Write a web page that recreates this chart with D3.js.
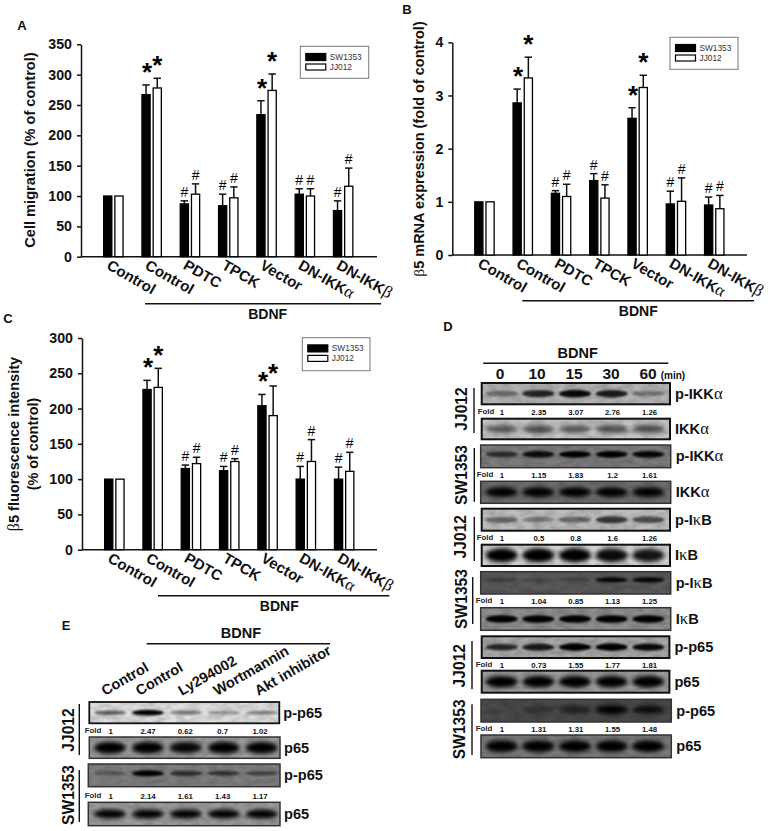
<!DOCTYPE html>
<html>
<head>
<meta charset="utf-8">
<script src="https://cdn.jsdelivr.net/npm/d3@7/dist/d3.min.js"></script>
<style>
html,body{margin:0;padding:0;background:#fff}
svg{display:block}
text{font-family:"Liberation Sans",Arial,sans-serif;fill:#111}
</style>
</head>
<body>
<svg id="fig" width="768" height="831"></svg>
<script>
// ---------- data ----------
const categories = ["Control","Control","PDTC","TPCK","Vector","DN-IKKα","DN-IKKβ"];
const seriesNames = ["SW1353","JJ012"];

const migrationSW  = [100,267,87,84,234,103,76];
const migrationSWTop = [100,283,92,103,257,112,92];
const migrationJJ  = [100,278,103,97,274,100,116];
const migrationJJTop = [100,294,120,115,301,112,146];
const marks = ["","*","#","#","*","#","#"];
const migrationTicks = [0,50,100,150,200,250,300,350];

const mrnaSW  = [1,2.86,1.16,1.4,2.57,0.96,0.94];
const mrnaSWTop = [1,3.12,1.21,1.53,2.77,1.2,1.09];
const mrnaJJ  = [1,3.33,1.1,1.07,3.15,1.01,0.87];
const mrnaJJTop = [1,3.72,1.33,1.32,3.38,1.45,1.12];
const mrnaTicks = [0,1,2,3,4];

const fluorSW  = [100,227,115,112,204,100,100];
const fluorSWTop = [100,240,120,118,220,118,117];
const fluorJJ  = [100,230,122,125,190,125,111];
const fluorJJTop = [100,257,131,129,232,156,138];
const fluorTicks = [0,50,100,150,200,250,300];

const timePoints = ["0","10","15","30","60"];
const foldD1 = ["1","2.35","3.07","2.76","1.26"];
const foldD2 = ["1","1.15","1.83","1.2","1.61"];
const foldD3 = ["1","0.5","0.8","1.6","1.26"];
const foldD4 = ["1","1.04","0.85","1.13","1.25"];
const foldD5 = ["1","0.73","1.55","1.77","1.81"];
const foldD6 = ["1","1.31","1.31","1.55","1.48"];
const treatmentsE = ["Control","Control","Ly294002","Wortmannin","Akt inhibitor"];
const foldE1 = ["1","2.47","0.62","0.7","1.02"];
const foldE2 = ["1","2.14","1.61","1.43","1.17"];

// band darkness per lane read from each blot
const bandsD = [
 [.4,.8,.95,.85,.35],[.55,.6,.55,.6,.6],[.65,.9,1,1,.95],[1,1,1,1,1],
 [.45,.35,.45,.7,.6],[1,1,1,.95,.9],[.35,.22,.28,.95,.95],[1,1,1,1,1],
 [.75,.85,1,1,.95],[1,1,1,1,1],[.06,.35,.55,1,.85],[1,1,1,1,1]
];
const bandsE = [[.55,1,.4,.32,.38],[1,1,.95,1,1],[.3,1,.65,.6,.45],[1,1,1,1,1]];
const blotNamesD = ["p-IKKα","IKKα","p-IKKα","IKKα","p-IκB","IκB","p-IκB","IκB","p-p65","p65","p-p65","p65"];
const blotNamesE = ["p-p65","p65","p-p65","p65"];

// ---------- layout (not data) ----------
const svg = d3.select("#fig");
const defs = svg.append("defs");
[["b1",1.2],["b2",2]].forEach(([id,s])=>{
  defs.append("filter").attr("id",id).attr("x","-30%").attr("y","-80%").attr("width","160%").attr("height","260%")
    .append("feGaussianBlur").attr("stdDeviation",s);
});
const grain = defs.append("filter").attr("id","grain").attr("x","0").attr("y","0").attr("width","100%").attr("height","100%");
grain.append("feTurbulence").attr("type","fractalNoise").attr("baseFrequency","0.09 0.2").attr("numOctaves",2).attr("seed",4);
grain.append("feColorMatrix").attr("values","0 0 0 0 0  0 0 0 0 0  0 0 0 0 0  0.9 0 0 0 -0.28");

const Greek = /([αβκ])/;
function richText(sel, str, greekSize){
  sel.text(null);
  str.split(Greek).filter(s=>s.length).forEach(part=>{
    const t = sel.append("tspan").text(part);
    if(Greek.test(part)) t.style("font-family","'Liberation Serif',serif").style("font-weight","400");
    if(Greek.test(part) && greekSize) t.style("font-size",greekSize+"px");
  });
}
function label(x,y,str,o={}){
  const t = svg.append("text").attr("x",x).attr("y",y)
    .attr("text-anchor",o.anchor||"middle")
    .style("font-size",(o.size||14)+"px")
    .style("font-weight",o.weight||"bold");
  if(o.rotate!==undefined) t.attr("transform",`rotate(${o.rotate},${x},${y})`);
  richText(t,str,o.greek);
  return t;
}
function rule(x1,y1,x2,y2,w=1.5){
  svg.append("line").attr("x1",x1).attr("y1",y1).attr("x2",x2).attr("y2",y2).attr("stroke","#111").attr("stroke-width",w);
}

function barPanel(p){
  const g = svg.append("g");
  const y = d3.scaleLinear().domain(p.domain).range([p.y0,p.yTop]);
  const x = d3.scaleBand().domain(d3.range(categories.length)).range(p.xRange);
  const x1 = d3.scaleBand().domain(seriesNames).range([-9.7,9.7]).paddingInner(.27);
  const yAxis = d3.axisLeft(y).tickValues(p.ticks).tickSize(4).tickSizeOuter(0).tickPadding(5).tickFormat(d3.format("d"));
  const ga = g.append("g").attr("transform",`translate(${p.axisX},0)`).call(yAxis);
  ga.selectAll("text").style("font-size","14.2px").style("font-weight","bold").attr("fill","#111");
  ga.selectAll("line,path").attr("stroke","#111").attr("stroke-width",1.5);
  const xAxis = d3.axisBottom(x).tickSize(0).tickFormat(i=>categories[i]);
  const gx = g.append("g").attr("transform",`translate(0,${p.y0})`).call(xAxis);
  gx.select("path").attr("d",`M${p.axisX},0H${p.axisRight}`).attr("stroke","#111").attr("stroke-width",1.5);
  gx.selectAll(".tick text").each(function(i){
     const t = d3.select(this);
     t.attr("text-anchor","start").attr("transform",`translate(-5,${p.labelDy}) rotate(30)`)
      .attr("x",0).attr("y",0).attr("dy",".35em").style("font-size","15px").style("font-weight","bold").attr("fill","#111");
     richText(t,categories[i],17);
  });
  const groups = [[seriesNames[0],p.sw,p.swTop],[seriesNames[1],p.jj,p.jjTop]];
  groups.forEach(([name,vals,tops],k)=>{
    const bars = g.append("g");
    vals.forEach((v,i)=>{
      const cx = x(i)+x.bandwidth()/2+x1(name)+x1.bandwidth()/2;
      if(tops[i]>v){
        bars.append("line").attr("x1",cx).attr("x2",cx).attr("y1",y(v)).attr("y2",y(tops[i])).attr("stroke","#111").attr("stroke-width",1.5);
        bars.append("line").attr("x1",cx-3.7).attr("x2",cx+3.7).attr("y1",y(tops[i])).attr("y2",y(tops[i])).attr("stroke","#111").attr("stroke-width",1.5);
      }
      bars.append("rect").attr("x",cx-x1.bandwidth()/2).attr("width",x1.bandwidth())
        .attr("y",y(v)).attr("height",y.range()[0]-y(v))
        .attr("fill",k===0?"#000":"#fff").attr("stroke","#000").attr("stroke-width",1.3);
      const m = marks[i];
      if(m==="#") svg.append("text").attr("x",cx).attr("y",y(tops[i])-4).attr("text-anchor","middle")
           .style("font-size","14px").style("fill","#000").text("#");
      if(m==="*") svg.append("text").attr("x",cx+(k===0?1:0)).attr("y",y(tops[i])-4).attr("text-anchor","middle")
           .style("font-size","26px").style("font-weight","bold").style("fill","#000").text("*");
    });
  });
  // legend
  const l = p.legend;
  g.append("rect").attr("x",l[0]).attr("y",l[1]).attr("width",l[2]).attr("height",l[3]).attr("fill","#fff").attr("stroke","#777").attr("stroke-width",1);
  seriesNames.forEach((s,k)=>{
    const yy = l[1]+ (k===0?7.2:17.7);
    g.append("rect").attr("x",l[0]+5.5).attr("y",yy).attr("width",20).attr("height",k===0?7:6)
      .attr("fill",k===0?"#000":"#fff").attr("stroke","#000").attr("stroke-width",1.2);
    g.append("text").attr("x",l[0]+29.5).attr("y",yy+(k===0?6.5:6)).style("font-size","8.3px").style("fill","#333").text(s);
  });
}

barPanel({domain:[0,350],ticks:migrationTicks,y0:256.7,yTop:44.3,axisX:81,axisRight:377,xRange:[94.2,362.3],labelDy:7,
  sw:migrationSW,swTop:migrationSWTop,jj:migrationJJ,jjTop:migrationJJTop,legend:[300.3,46.3,68.4,32]});
barPanel({domain:[0,4],ticks:mrnaTicks,y0:255,yTop:42.3,axisX:452.3,axisRight:747,xRange:[465.3,733.4],labelDy:7,
  sw:mrnaSW,swTop:mrnaSWTop,jj:mrnaJJ,jjTop:mrnaJJTop,legend:[670,37.3,68,32]});
barPanel({domain:[0,300],ticks:fluorTicks,y0:549.7,yTop:338,axisX:82,axisRight:377,xRange:[95.2,363.3],labelDy:7,
  sw:fluorSW,swTop:fluorSWTop,jj:fluorJJ,jjTop:fluorJJTop,legend:[302.3,337.7,67.7,33]});

// panel letters
label(22,30,"A",{size:13});
label(407,14,"B",{size:13});
label(8,323,"C",{size:13});
label(448,331,"D",{size:13});
label(66,630,"E",{size:13});

// axis titles
label(35,150,"Cell migration (% of control)",{size:14.6,rotate:-90});
label(424,149,"β5 mRNA expression (fold of control)",{size:14.5,rotate:-90,greek:15.5});
label(19,444,"β5 fluorescence intensity",{size:14.6,rotate:-90,greek:16});
label(38,444,"(% of control)",{size:14.4,rotate:-90});

// BDNF brackets
[[145,381,303.7,267.7,319],[522.3,754,300.7,638.3,316],[158,389.3,595.7,279.3,611]].forEach(([a,b,y,cx,ty])=>{
  rule(a,y,b,y,1.4);
  label(cx,ty,"BDNF",{size:14});
});

// blots
function blot(b, name, bands, lanes, bg, fold, foldX){
  const id = "c"+Math.round(b.x)+"_"+Math.round(b.y);
  defs.append("clipPath").attr("id",id).append("rect").attr("x",b.x).attr("y",b.y).attr("width",b.w).attr("height",b.h);
  const g = svg.append("g").attr("clip-path",`url(#${id})`);
  g.append("rect").attr("x",b.x).attr("y",b.y).attr("width",b.w).attr("height",b.h).attr("fill",bg);
  const f = g.append("g").attr("filter",`url(#${b.rh>4?"b2":"b1"})`);
  bands.forEach((d,i)=>{
    f.append("ellipse").attr("cx",lanes(i)).attr("cy",b.y+b.h/2-(b.up||0))
     .attr("rx",(b.rw||16)).attr("ry",b.rh*(.55+.45*d)).attr("fill","#000").attr("opacity",d);
  });
  g.append("rect").attr("x",b.x).attr("y",b.y).attr("width",b.w).attr("height",b.h).attr("filter","url(#grain)").attr("opacity",.35);
  svg.append("rect").attr("x",b.x).attr("y",b.y).attr("width",b.w).attr("height",b.h)
    .attr("fill","none").attr("stroke",b.edge||"#333").attr("stroke-width",b.sw||1.5);
  label(b.x+b.w+(b.lx||5),b.y+b.h/2+5,name,{anchor:"start",size:b.ls||14.6,greek:(b.ls||14.6)+2});
  if(fold){
    label(b.fx,b.fy,"Fold",{size:7.8}).style("fill","#222");
    fold.forEach((v,i)=>label(foldX(i),b.fy+.5,v,{size:7.8}));
  }
}

const lanesD = d3.scalePoint().domain(d3.range(5)).range([501.7,648.3]);
const foldXD = d3.scalePoint().domain(d3.range(5)).range([502,649.5]);
const foldsD = [foldD1,null,foldD2,null,foldD3,null,foldD4,null,foldD5,null,foldD6,null];
const bgD = ["#b4b4b4","#c6c6c6","#7c7c7c","#6e6e6e","#bdbdbd","#d2d2d2","#5a5a5a","#8e8e8e","#a8a8a8","#9c9c9c","#4a4a4a","#7a7a7a"];
const geomD = [
 {x:481.7,y:383,w:188.3,h:21.3,rh:4,fx:486,fy:414,sw:2,edge:"#111"},
 {x:481.7,y:418.7,w:188.3,h:20.6,rh:5,sw:2,edge:"#111",up:0},
 {x:480.7,y:445,w:190,h:22.7,rh:3.4,fx:485,fy:477,up:2},
 {x:480.7,y:481.3,w:190,h:22,rh:5},
 {x:481.7,y:508.7,w:188.3,h:22,rh:4,fx:485,fy:540,sw:2,edge:"#111"},
 {x:481.7,y:544.7,w:188.3,h:21.3,rh:7,sw:2,edge:"#111"},
 {x:480.7,y:571.7,w:190,h:22.3,rh:2.6,fx:484,fy:603,up:3},
 {x:480.7,y:607.7,w:190,h:22.6,rh:3.8},
 {x:481.7,y:636.3,w:187.7,h:21.7,rh:3.8,fx:484,fy:667,sw:2,edge:"#111"},
 {x:481.7,y:670.7,w:187.7,h:22,rh:6,sw:2,edge:"#111"},
 {x:481,y:699.3,w:190.3,h:22.7,rh:4.5,fx:484,fy:731,up:1},
 {x:481,y:735,w:190.3,h:22.7,rh:6}
];
geomD.forEach((b,i)=>blot(b,blotNamesD[i],bandsD[i],lanesD,bgD[i],foldsD[i],foldXD));

const lanesE = d3.scalePoint().domain(d3.range(5)).range([110,261.7]);
const foldXE = d3.scalePoint().domain(d3.range(5)).range([110.7,260]);
const bgE = ["#dedede","#9c9c9c","#7e7e7e","#9c9c9c"];
const geomE = [
 {x:89.3,y:702,w:190,h:21.3,rh:2.8,fx:93,fy:733,sw:1.8,edge:"#111",lx:4},
 {x:89.3,y:737,w:190.7,h:21.3,rh:6,lx:4,sw:1.5},
 {x:88.3,y:764,w:191.7,h:22.7,rh:3,fx:93,fy:798,lx:4,up:2},
 {x:88.3,y:802.3,w:191.7,h:23.4,rh:4.5,lx:4}
];
[foldE1,null,foldE2,null].forEach((fold,i)=>blot(geomE[i],blotNamesE[i],bandsE[i],lanesE,bgE[i],fold,foldXE));

// panel D header
label(577.7,358,"BDNF",{size:14.5});
rule(483.3,363.3,668.3,363.3,1.4);
const timeX = d3.scalePoint().domain(d3.range(5)).range([500,648]);
timePoints.forEach((t,i)=>label(timeX(i),379,t,{size:15.5}));
label(673,379,"(min)",{size:10});

// side labels D
[["JJ012",461,409,474,388,433],["SW1353",461,475,474.3,448,501.7],["JJ012",461,536.7,474.3,516.7,561],
 ["SW1353",461,599,472.7,577,624],["JJ012",460,665.7,472,641,689.3],["SW1353",460,729.3,472,704.3,755]].forEach(([s,x,y,lx,a,b])=>{
  label(x+5.5,y,s,{size:15.6,rotate:-90});
  rule(lx,a,lx,b,1.4);
});
// panel E header
label(241,638,"BDNF",{size:14.5});
rule(146.7,643.7,330,643.7,1.4);
const treatX = d3.scalePoint().domain(d3.range(5)).range([105,258.3]);
const treatOffsets = [0,-4,0,-3,0];
treatmentsE.forEach((t,i)=>label(treatX(i)+treatOffsets[i],696,t,{anchor:"start",size:14.5,rotate:-30}));
[["JJ012",68.3,730,79.3,704,755],["SW1353",68.3,795,79.3,770,822]].forEach(([s,x,y,lx,a,b])=>{
  label(x+5.5,y,s,{size:15.6,rotate:-90});
  rule(lx,a,lx,b,1.4);
});
</script>
</body>
</html>
